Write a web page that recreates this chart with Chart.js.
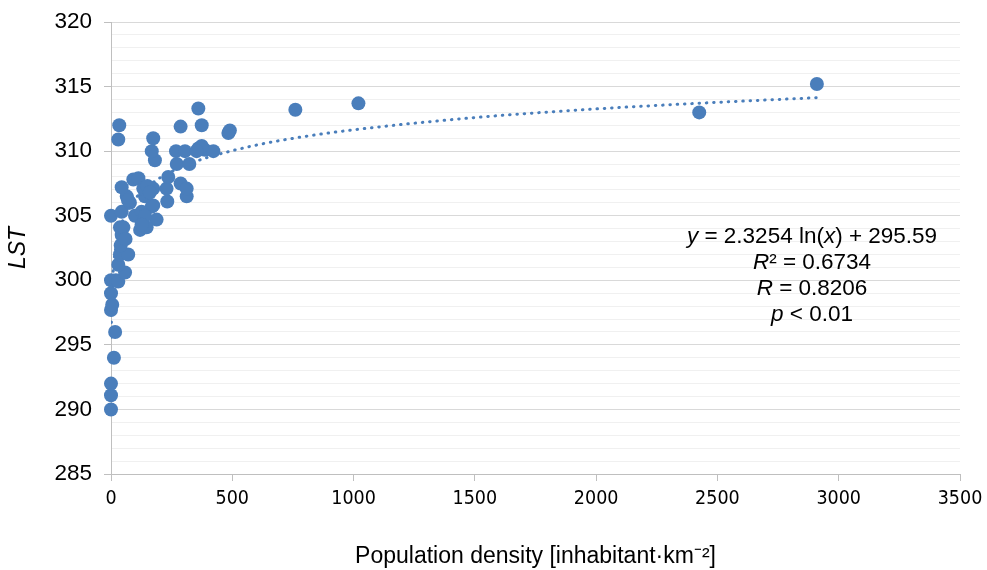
<!DOCTYPE html>
<html lang="en">
<head>
    <meta charset="UTF-8">
    <title>LST vs population density</title>
    <script src="https://cdn.jsdelivr.net/npm/chart.js"></script>
    <style>
        body {
            margin: 0;
            background: #fff;
        }
        #wrap {
            width: 987px;
            height: 570px;
        }
    </style>
</head>
<body>
    <div id="wrap">
        <canvas id="chart"></canvas>
    </div>

    <script>
        // population density (inhabitant/km2) and LST of each point
        const density = [0, 0, 0, 12, 17, 0, 5, 0, 0, 20, 30, 58, 30, 37, 71, 40, 44, 37, 51, 0,
            44, 99, 126, 168, 174, 188, 120, 147, 65, 78, 140, 232, 312, 44, 92, 113, 133, 174, 229, 287,
            312, 236, 271, 323, 181, 168, 268, 305, 360, 387, 422, 374, 174, 34, 30, 287, 360, 374, 484, 490,
            760, 1020, 2425, 2910, 150, 160, 70, 140, 126, 60, 353];
        const lst = [290, 291.1, 292, 294, 296, 297.7, 298.1, 299, 300, 300, 299.9, 300.6, 301.2, 302, 302, 302.7, 303.5, 304.1, 304.1, 305,
            305.3, 305.0, 305.3, 305.7, 305.8, 304.7, 303.9, 304.1, 306.5, 306, 306.5, 306.1, 306.5, 307.2, 307.8, 307.9, 307.1, 307.1, 307.1, 307.5,
            307.1, 308, 309, 309, 309.3, 310, 310, 310, 310.2, 310.1, 310, 310.4, 311, 312, 310.9, 311.9, 313.3, 312, 311.4, 311.6,
            313.2, 313.7, 313, 315.2, 307.3, 306.8, 306.2, 305.0, 304.3, 303.2, 310.0];

        const trendX = [1, 2, 3, 5, 10, 20, 30, 50, 100, 150, 200, 250, 300, 400, 600, 800, 1000, 1500, 2000, 2500, 2910];
        const trendY = [295.59, 297.20, 298.14, 299.33, 300.94, 302.56, 303.50, 304.69, 306.30, 307.24, 307.91, 308.43, 308.85, 309.52, 310.47, 311.14, 311.65, 312.60, 313.27, 313.78, 314.14];

        const xTicks = [0, 500, 1000, 1500, 2000, 2500, 3000, 3500];
        const statLines = [
            [['y', true], [' = 2.3254 ln(', false], ['x', true], [') + 295.59', false]],
            [['R', true], ['\u00b2 = 0.6734', false]],
            [['R', true], [' = 0.8206', false]],
            [['p', true], [' < 0.01', false]]
        ];

        const blue = '#4a7ebb';
        const fontFamily = '"Liberation Sans", Arial, sans-serif';
        const narrowFamily = '"Liberation Sans Narrow", "DejaVu Sans Condensed", "Liberation Sans", sans-serif';

        const statsText = {
            id: 'statsText',
            afterDraw(chart) {
                const ctx = chart.ctx;
                const cx = chart.scales.x.getPixelForValue(2890);
                let cy = chart.scales.y.getPixelForValue(303.4);
                ctx.save();
                ctx.fillStyle = '#000';
                ctx.textBaseline = 'middle';
                ctx.textAlign = 'left';
                statLines.forEach(line => {
                    let w = 0;
                    line.forEach(([t, it]) => {
                        ctx.font = (it ? 'italic ' : '') + '22.5px ' + fontFamily;
                        w += ctx.measureText(t).width;
                    });
                    let x = cx - w / 2;
                    line.forEach(([t, it]) => {
                        ctx.font = (it ? 'italic ' : '') + '22.5px ' + fontFamily;
                        ctx.fillText(t, x, cy);
                        x += ctx.measureText(t).width;
                    });
                    cy += 26;
                });
                ctx.restore();
            }
        };

        const ctx = document.getElementById('chart').getContext('2d');
        const chart = new Chart(ctx, {
            type: 'scatter',
            data: {
                datasets: [{
                    label: 'LST',
                    data: density.map((d, i) => ({ x: d, y: lst[i] })),
                    backgroundColor: blue,
                    borderWidth: 0,
                    pointRadius: 7,
                    clip: false,
                    order: 0
                }, {
                    label: 'trend',
                    type: 'line',
                    data: trendX.map((d, i) => ({ x: d, y: trendY[i] })),
                    borderColor: blue,
                    borderWidth: 3,
                    borderDash: [0.5, 6.8],
                    borderCapStyle: 'round',
                    cubicInterpolationMode: 'monotone',
                    pointRadius: 0,
                    fill: false,
                    order: 1
                }]
            },
            options: {
                responsive: true,
                maintainAspectRatio: false,
                animation: false,
                layout: { padding: { top: 22, right: 27, bottom: 0, left: 0 } },
                plugins: {
                    legend: { display: false },
                    tooltip: { enabled: false }
                },
                scales: {
                    x: {
                        type: 'linear',
                        min: 0,
                        max: 3500,
                        afterBuildTicks: s => { s.ticks = xTicks.map(v => ({ value: v })); },
                        afterFit: s => {
                            s.height = 96;
                            s.paddingLeft = 0;
                            s.paddingRight = 0;
                        },
                        ticks: {
                            color: '#000',
                            padding: 6,
                            maxRotation: 0,
                            font: { family: narrowFamily, size: 19.5 },
                            callback: v => String(v)
                        },
                        grid: {
                            drawOnChartArea: false,
                            tickLength: 7,
                            tickColor: '#bfbfbf'
                        },
                        border: { color: '#bfbfbf' },
                        title: {
                            display: true,
                            text: 'Population density [inhabitant\u00b7km\u207b\u00b2]',
                            color: '#000',
                            padding: { top: 0, bottom: 0 },
                            font: { family: fontFamily, size: 23 }
                        }
                    },
                    y: {
                        min: 285,
                        max: 320,
                        afterFit: s => {
                            s.width = 111;
                            s.paddingTop = 0;
                            s.paddingBottom = 0;
                        },
                        ticks: {
                            stepSize: 1,
                            autoSkip: false,
                            color: '#000',
                            padding: 12,
                            font: { family: fontFamily, size: 22.5 },
                            callback: v => (v % 5 === 0 ? v : '')
                        },
                        grid: {
                            color: c => (c.tick && c.tick.value % 5 === 0 ? '#d9d9d9' : '#f0f0f0'),
                            tickColor: c => (c.tick && c.tick.value % 5 === 0 ? '#bfbfbf' : 'rgba(0,0,0,0)'),
                            tickLength: 7
                        },
                        border: { color: '#bfbfbf' },
                        title: {
                            display: true,
                            text: 'LST',
                            color: '#000',
                            padding: { top: 5, bottom: 0 },
                            font: { family: fontFamily, size: 23, style: 'italic' }
                        }
                    }
                }
            },
            plugins: [statsText]
        });
    </script>
</body>
</html>
